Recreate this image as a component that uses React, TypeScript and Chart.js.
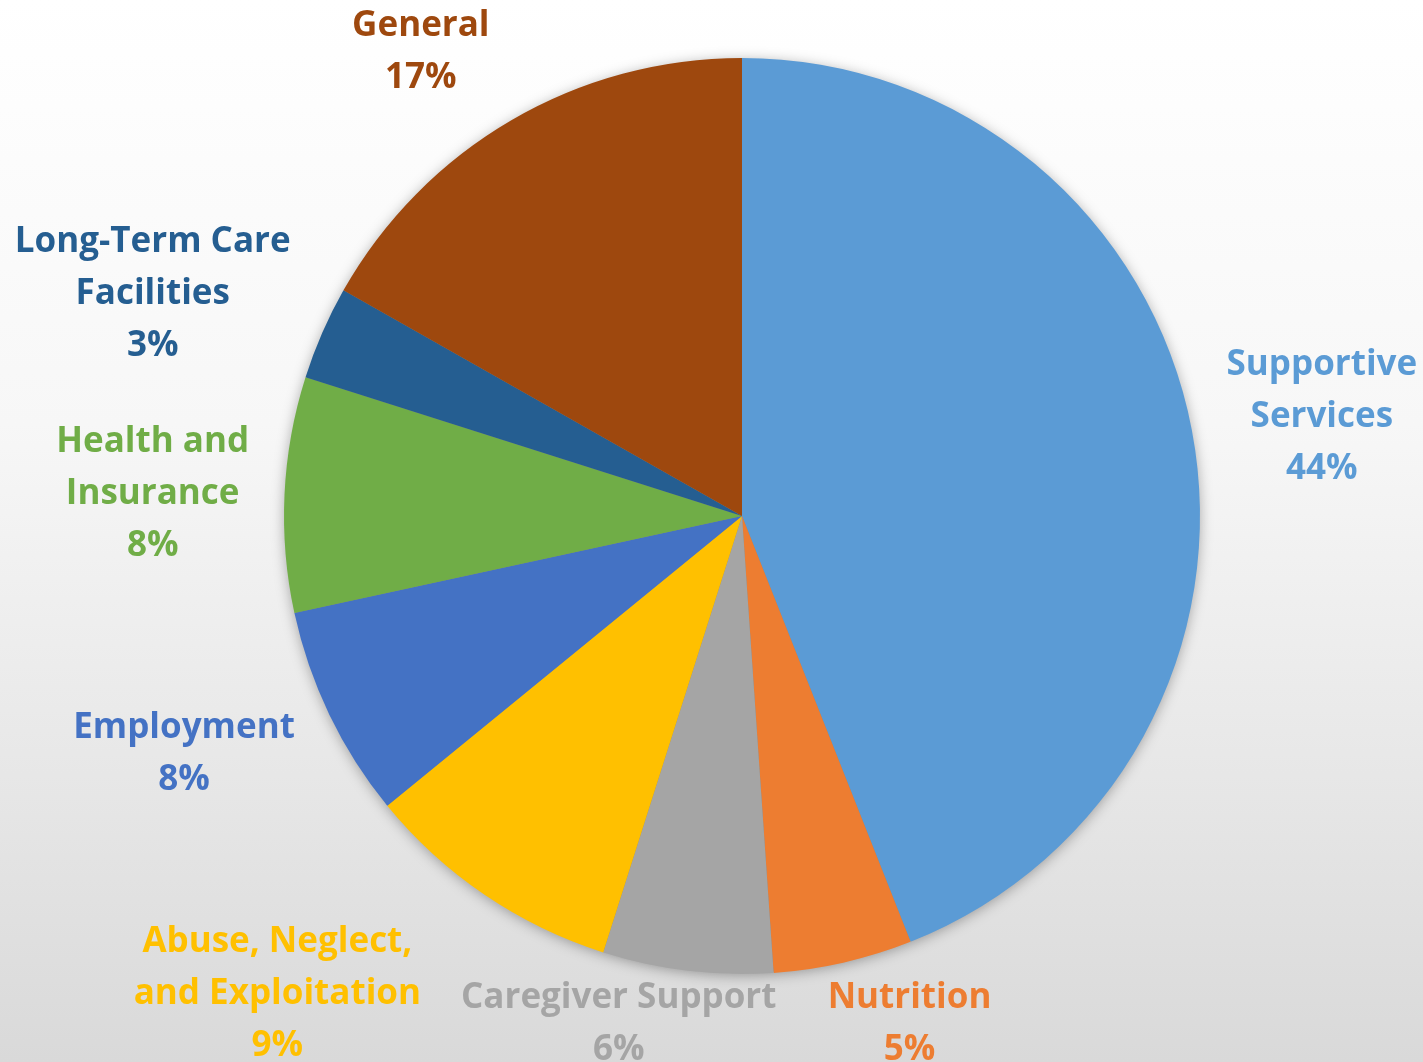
import React, { useEffect, useRef } from "react";
import { Chart, registerables } from "chart.js";

Chart.register(...registerables);

const categories = [
  "Supportive Services",
  "Nutrition",
  "Caregiver Support",
  "Abuse, Neglect, and Exploitation",
  "Employment",
  "Health and Insurance",
  "Long-Term Care Facilities",
  "General",
];
const labelLines = [
  ["Supportive", "Services"],
  ["Nutrition"],
  ["Caregiver Support"],
  ["Abuse, Neglect,", "and Exploitation"],
  ["Employment"],
  ["Health and", "Insurance"],
  ["Long-Term Care", "Facilities"],
  ["General"],
];
const shares = [44.0, 4.9, 6.0, 9.2, 7.5, 8.3, 3.3, 16.8];
const colors = ["#5B9BD5", "#ED7D31", "#A5A5A5", "#FFC000", "#4472C4", "#70AD47", "#255E91", "#9E480E"];

// label placement relative to each slice: radius factor and angle shift (deg)
const labelRadius = [1.286, 1.16, 1.133, 1.45, 1.321, 1.288, 1.378, 1.24];
const labelShift = [0.7, -5.6, 6.9, 10.2, 3.0, -0.2, -2.6, -4.2];

const FONT = "bold 35px 'Open Sans', Lato, sans-serif";
const LINE_H = 52;
const TEXT_DY = 4;

const shadowPlugin = {
  id: "pieShadow",
  beforeDatasetsDraw(chart: any) {
    const meta = chart.getDatasetMeta(0);
    const a = meta.data[0];
    if (!a) return;
    const ctx = chart.ctx;
    ctx.save();
    ctx.shadowColor = "rgba(0,0,0,0.35)";
    ctx.shadowBlur = 14;
    ctx.shadowOffsetY = 2;
    ctx.fillStyle = "#888";
    ctx.beginPath();
    ctx.arc(a.x, a.y, a.outerRadius - 1, 0, Math.PI * 2);
    ctx.fill();
    ctx.restore();
  },
};

const labelPlugin = {
  id: "outerLabels",
  afterDatasetsDraw(chart: any) {
    const meta = chart.getDatasetMeta(0);
    const ctx = chart.ctx;
    const vals = chart.data.datasets[0].data as number[];
    ctx.save();
    ctx.font = FONT;
    ctx.textAlign = "center";
    ctx.textBaseline = "middle";
    meta.data.forEach((arc: any, i: number) => {
      const mid = (arc.startAngle + arc.endAngle) / 2 + (labelShift[i] * Math.PI) / 180;
      const r = arc.outerRadius * labelRadius[i];
      const x = arc.x + r * Math.cos(mid);
      const y = arc.y + r * Math.sin(mid) + TEXT_DY;
      const lines = [...labelLines[i], Math.round(vals[i]) + "%"];
      const top = y - ((lines.length - 1) * LINE_H) / 2;
      ctx.fillStyle = colors[i];
      lines.forEach((t, k) => ctx.fillText(t, x, top + k * LINE_H));
    });
    ctx.restore();
  },
};

export default function App() {
  const ref = useRef<HTMLCanvasElement | null>(null);
  useEffect(() => {
    if (!ref.current) return;
    const chart = new Chart(ref.current, {
      type: "pie",
      data: {
        labels: categories,
        datasets: [
          {
            data: shares,
            backgroundColor: colors,
            borderWidth: 0,
          },
        ],
      },
      options: {
        animation: false,
        responsive: false,
        maintainAspectRatio: false,
        layout: { padding: { top: 58, bottom: 88, left: 284, right: 223 } },
        plugins: { legend: { display: false }, tooltip: { enabled: false } },
      },
      plugins: [shadowPlugin, labelPlugin],
    });
    return () => chart.destroy();
  }, []);
  return (
    <div
      style={{
        position: "fixed",
        left: 0,
        top: 0,
        width: 1423,
        height: 1062,
        background: "linear-gradient(to bottom, #ffffff 0%, #f7f7f7 40%, #e6e6e6 75%, #d9d9d9 100%)",
      }}
    >
      <canvas ref={ref} width={1423} height={1062} style={{ display: "block" }} />
    </div>
  );
}
